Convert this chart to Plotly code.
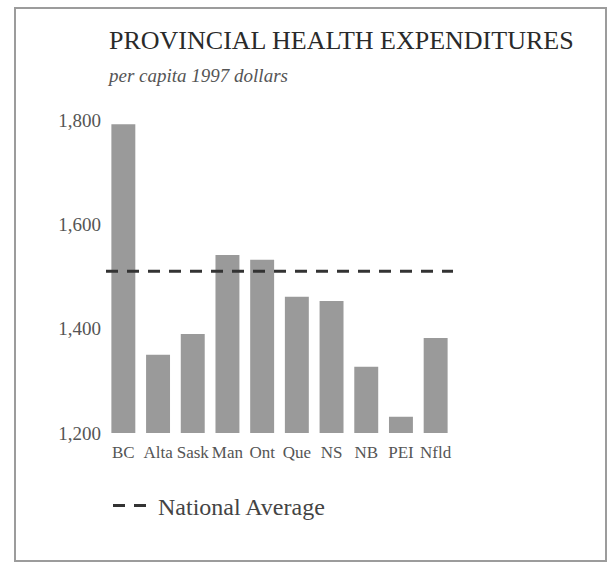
import plotly.graph_objects as go

provinces = ["BC", "Alta", "Sask", "Man", "Ont", "Que", "NS", "NB", "PEI", "Nfld"]
spending = [1792, 1350, 1390, 1541, 1532, 1461, 1453, 1327, 1231, 1382]
national_average = 1510
y_ticks = [1200, 1400, 1600, 1800]

W, H = 611, 565
L, R, T, B = 106, 158, 120, 132
PW, PH = W - L - R, H - T - B

def px(x):
    return (x - L) / PW

def py(y):
    return (H - B - y) / PH

FONT = "Liberation Serif"

fig = go.Figure()
fig.add_trace(go.Bar(
    x=provinces, y=spending,
    marker=dict(color="#9a9a9a", line=dict(width=0)),
    showlegend=False, hoverinfo="x+y",
))
fig.add_trace(go.Scatter(
    x=[0, 1], y=[national_average, national_average],
    xaxis="x2", mode="lines",
    line=dict(color="#333333", width=3, dash="12px,9px"),
    name="National Average",
))

fig.update_layout(
    width=W, height=H,
    margin=dict(l=L, r=R, t=T, b=B),
    paper_bgcolor="white", plot_bgcolor="white",
    font=dict(family=FONT, color="#444444"),
    bargap=0.31,
    xaxis=dict(
        type="category", showgrid=False, zeroline=False, showline=False,
        ticks="", ticklabelstandoff=7,
        tickfont=dict(size=17, color="#555555", family=FONT),
    ),
    xaxis2=dict(overlaying="x", range=[0, 1], visible=False),
    yaxis=dict(
        range=[1200, 1800], tickvals=y_ticks, tickformat=",",
        showgrid=False, zeroline=False, showline=False, ticks="",
        ticklabelstandoff=4,
        tickfont=dict(size=19, color="#555555", family=FONT),
    ),
    showlegend=True,
    legend=dict(
        x=px(108), y=py(506), xanchor="left", yanchor="middle",
        itemwidth=40,
        font=dict(size=24, color="#444444", family=FONT),
        bgcolor="rgba(0,0,0,0)",
    ),
    title=dict(
        text="PROVINCIAL HEALTH EXPENDITURES",
        xref="container", yref="container",
        x=109 / W, xanchor="left", y=1 - 40 / H, yanchor="middle",
        font=dict(size=26, color="#2a2a2a", family=FONT),
    ),
    annotations=[dict(
        text="<i>per capita 1997 dollars</i>",
        xref="paper", yref="paper", x=px(105), y=py(75),
        xanchor="left", yanchor="middle", showarrow=False,
        font=dict(size=19, color="#555555", family=FONT),
    )],
    shapes=[dict(
        type="rect", xref="paper", yref="paper",
        x0=px(15), x1=px(606), y0=py(561), y1=py(8),
        line=dict(color="#9c9c9c", width=2), fillcolor="rgba(0,0,0,0)",
        layer="below",
    )],
)

fig.write_html("out.html")
